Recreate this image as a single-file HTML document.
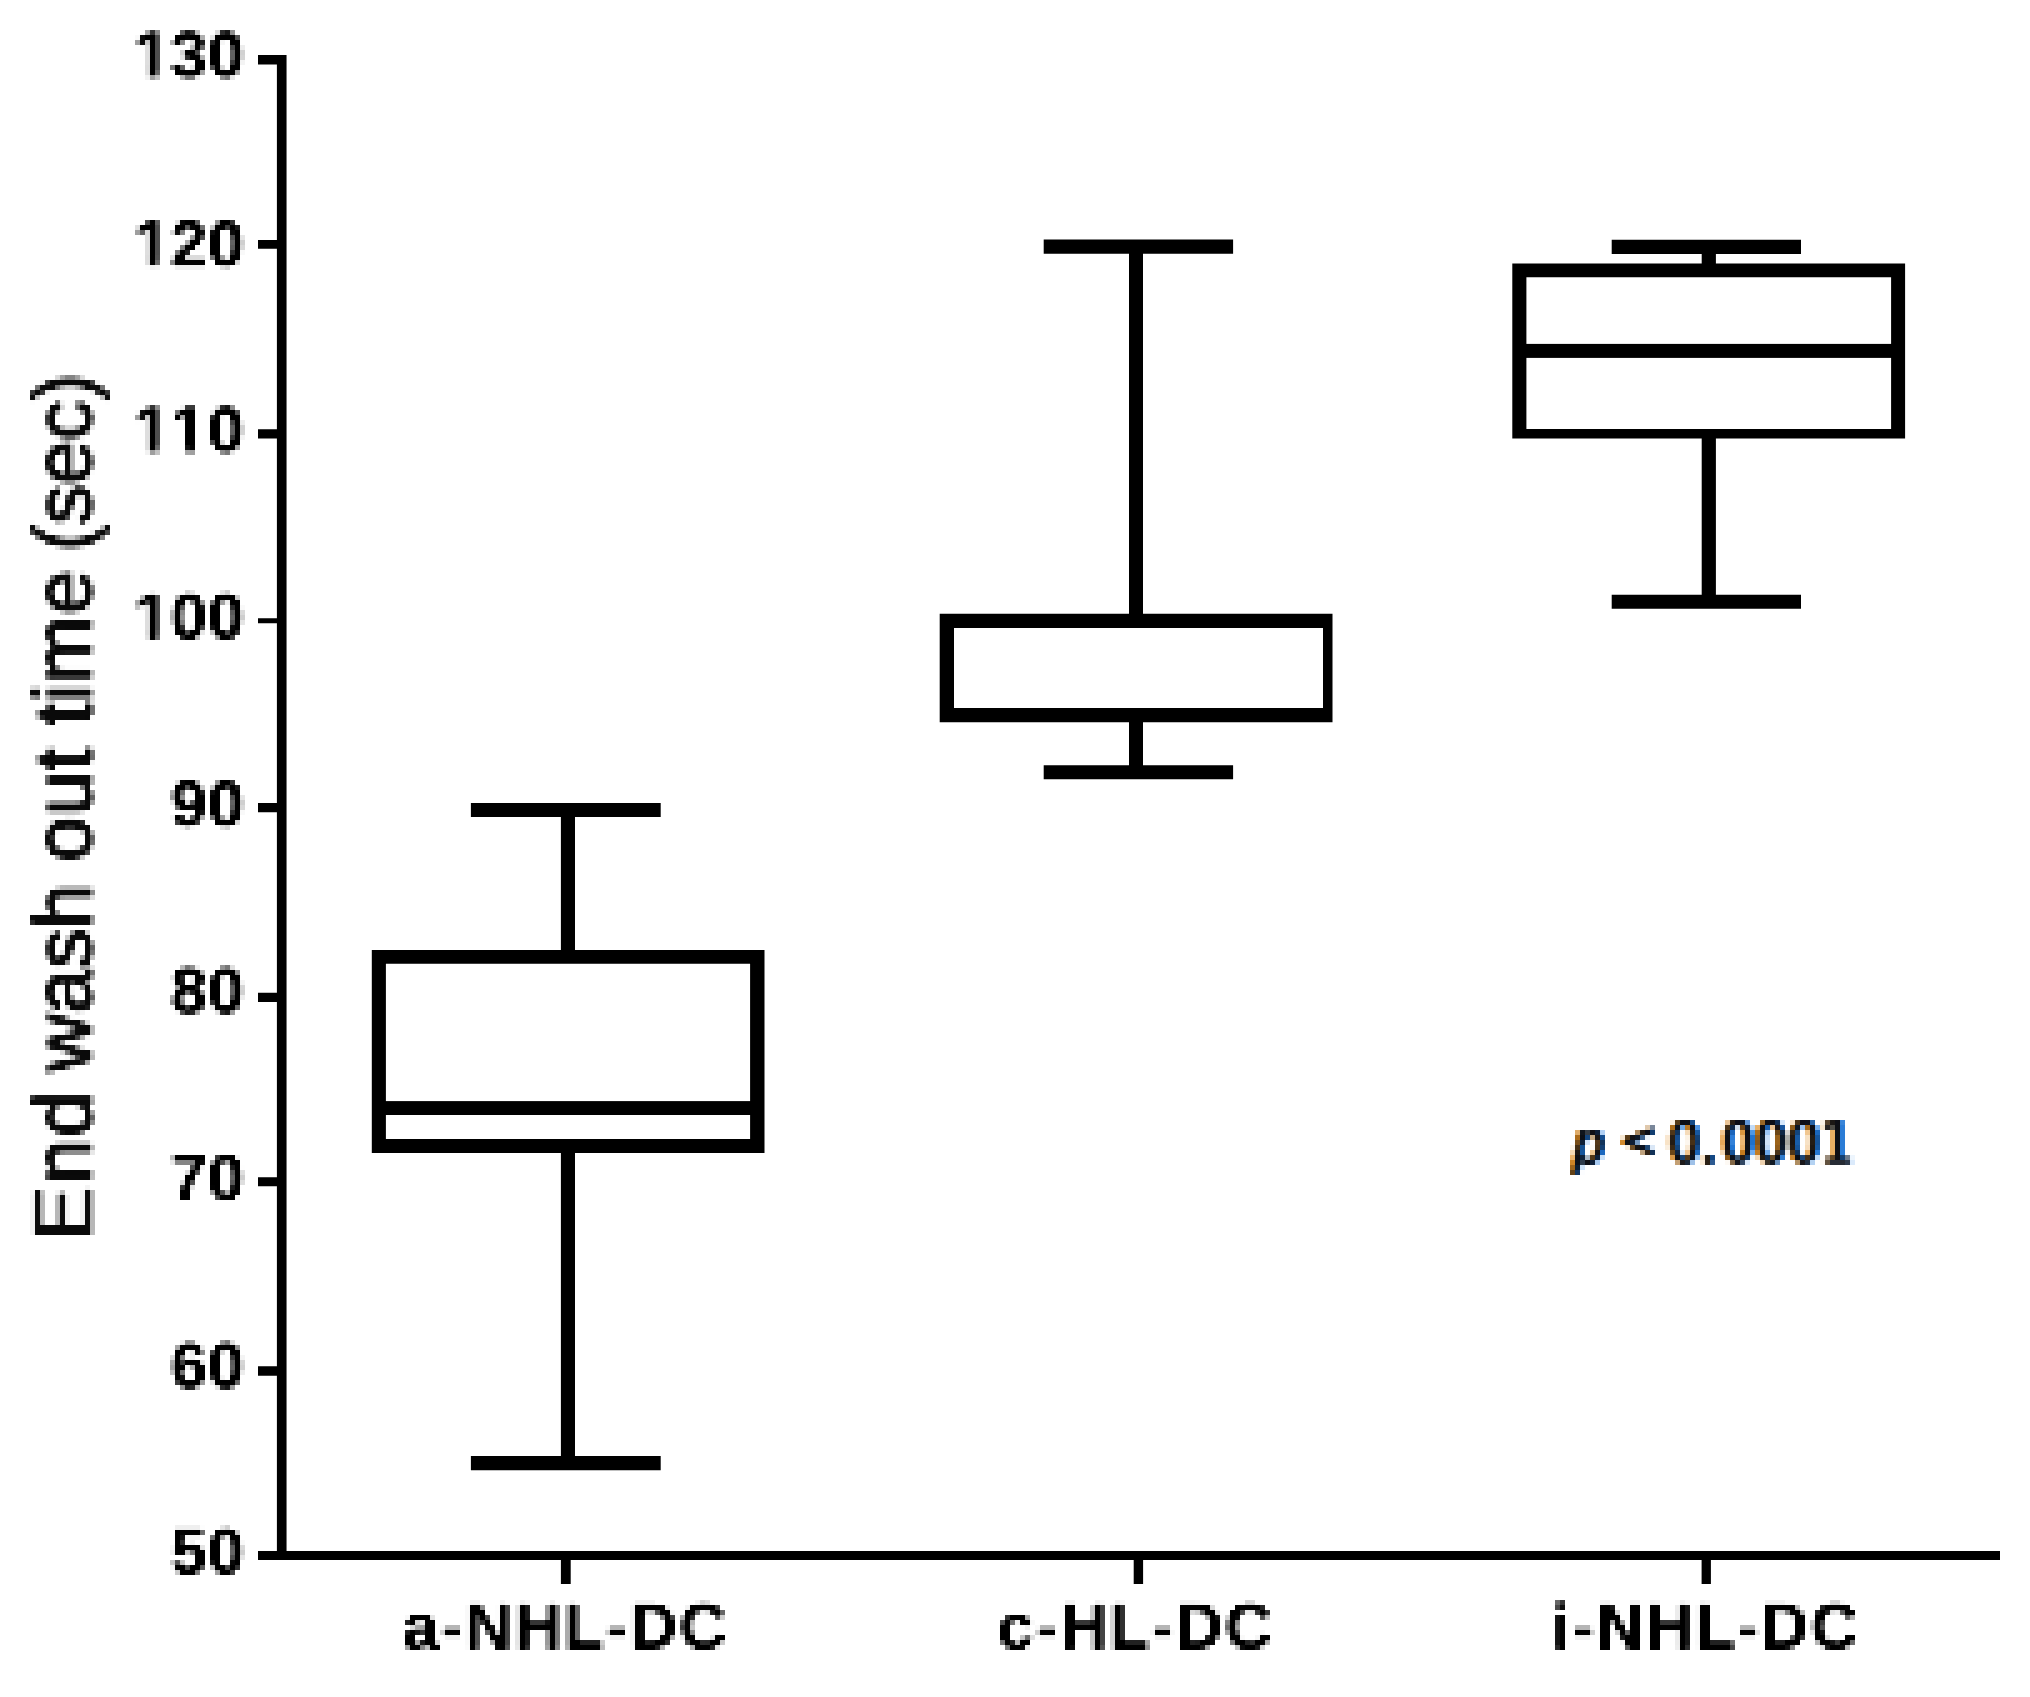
<!DOCTYPE html>
<html lang="en"><head><meta charset="utf-8"><title>End wash out time box plot</title>
<style>
html,body{margin:0;padding:0;background:#fff;}
body{width:2030px;height:1697px;overflow:hidden;}
svg{display:block;position:absolute;left:0;top:0;}
text{font-family:"Liberation Sans",Arial,sans-serif;fill:#000;}
.tk{font-size:65.5px;font-weight:700;letter-spacing:0.66px;font-kerning:none;}
.xl{font-size:65.5px;font-weight:700;letter-spacing:2.1px;}
.yl{font-size:80.8px;font-weight:400;fill:#0a0a0a;stroke:#0a0a0a;stroke-width:1.5px;}
.pv text{font-family:"DejaVu Sans Condensed","DejaVu Sans","Liberation Sans",sans-serif;font-size:56.6px;fill:#0b0d14;stroke:#0b0d14;stroke-width:0.7px;}
.pv .it{font-style:italic;}
.pv .lt{font-size:49px;stroke-width:1.1px;}
.pv .num{letter-spacing:0.6px;}
</style></head>
<body>
<svg width="2030" height="1697" viewBox="0 0 2030 1697">
<defs>
<filter id="ct" x="1540" y="1090" width="340" height="110" filterUnits="userSpaceOnUse" color-interpolation-filters="sRGB">
<feFlood flood-color="#e18c1e" flood-opacity="0.8" result="oc"/>
<feFlood flood-color="#1e7de6" flood-opacity="0.8" result="bc"/>
<feOffset in="SourceAlpha" dx="-3.4" dy="0" result="lo"/>
<feOffset in="SourceAlpha" dx="3.4" dy="0" result="ro"/>
<feComposite in="oc" in2="lo" operator="in" result="lf"/>
<feComposite in="bc" in2="ro" operator="in" result="rf"/>
<feMerge><feMergeNode in="lf"/><feMergeNode in="rf"/><feMergeNode in="SourceGraphic"/></feMerge>
</filter>
<filter id="px" x="0" y="0" width="2030" height="1697" filterUnits="userSpaceOnUse" primitiveUnits="userSpaceOnUse" color-interpolation-filters="sRGB">
<feGaussianBlur in="SourceGraphic" stdDeviation="1.3"/>
<feComponentTransfer result="b"><feFuncA type="linear" slope="1.25" intercept="-0.04"/></feComponentTransfer>
<feFlood x="2" y="2" width="1" height="1" flood-color="#000"/>
<feComposite width="5" height="5"/>
<feTile result="grid"/>
<feComposite in="b" in2="grid" operator="in"/>
<feMorphology operator="dilate" radius="2"/>
</filter>
<filter id="px2" x="0" y="0" width="2030" height="1697" filterUnits="userSpaceOnUse" primitiveUnits="userSpaceOnUse" color-interpolation-filters="sRGB">
<feGaussianBlur in="SourceGraphic" stdDeviation="1.3"/>
<feComponentTransfer result="b"><feFuncA type="linear" slope="1.45" intercept="-0.06"/></feComponentTransfer>
<feFlood x="2" y="2" width="1" height="1" flood-color="#000"/>
<feComposite width="5" height="5"/>
<feTile result="grid"/>
<feComposite in="b" in2="grid" operator="in"/>
<feMorphology operator="dilate" radius="2"/>
</filter>
</defs>
<g fill="#000">
<path d="M258.0 55H286.55V1551.0H2000V1560.0H1710.9V1583.9H1701.6V1560.0H1143.1V1583.9H1133.7V1560.0H570.7V1583.9H560.9V1560.0H258.0V1551.0H276.9V1375.7H258.0V1366.3H276.9V1186.2H258.0V1177.3H276.9V1001.9H258.0V992.7H276.9V812.2H258.0V802.9H276.9V623.2H258.0V618.3H276.9V438.6H258.0V429.3H276.9V248.8H258.0V239.9H276.9V64.4H258.0Z"/>
<path fill-rule="evenodd" d="M371.80 949.90H764.50V1153.00H371.80Z M385.90 963.70V1139.00H750.10V963.70Z"/>
<rect x="378.85" y="1101.10" width="378.45" height="13.90"/>
<path d="M470.90 803.00H660.70V816.90H575.00V956.80H560.90V816.90H470.90Z"/>
<path d="M470.90 1470.30H660.70V1456.00H575.00V1146.00H560.90V1456.00H470.90Z"/>
<path fill-rule="evenodd" d="M939.70 613.80H1332.50V722.30H939.70Z M954.00 627.90V708.10H1323.00V627.90Z"/>
<path d="M1043.70 239.60H1233.10V253.80H1143.00V620.85H1129.00V253.80H1043.70Z"/>
<path d="M1043.70 779.30H1233.10V765.20H1143.00V715.20H1129.00V765.20H1043.70Z"/>
<path fill-rule="evenodd" d="M1512.30 263.40H1905.10V438.40H1512.30Z M1526.40 277.30V428.90H1891.10V277.30Z"/>
<rect x="1519.35" y="343.90" width="378.75" height="14.00"/>
<path d="M1611.70 239.80H1801.00V253.90H1715.90V270.35H1701.70V253.90H1611.70Z"/>
<path d="M1611.70 608.80H1801.00V594.70H1715.90V433.65H1701.70V594.70H1611.70Z"/>
</g>
<g filter="url(#px)">
<text class="tk" x="244.8" y="76.9" text-anchor="end">130</text>
<text class="tk" x="244.8" y="265.5" text-anchor="end">120</text>
<text class="tk" x="244.8" y="452.4" text-anchor="end">110</text>
<text class="tk" x="244.8" y="639.4" text-anchor="end">100</text>
<text class="tk" x="244.8" y="826.3" text-anchor="end">90</text>
<text class="tk" x="244.8" y="1013.4" text-anchor="end">80</text>
<text class="tk" x="244.8" y="1200.2" text-anchor="end">70</text>
<text class="tk" x="244.8" y="1387.5" text-anchor="end">60</text>
<text class="tk" x="244.8" y="1574.1" text-anchor="end">50</text>
<text class="xl" x="565.6" y="1649.2" text-anchor="middle">a-NHL-DC</text>
<text class="xl" x="1135.8" y="1649.2" text-anchor="middle">c-HL-DC</text>
<text class="xl" x="1705.9" y="1649.2" text-anchor="middle">i-NHL-DC</text>
<text class="yl" transform="translate(91,1240.5) rotate(-90)" y="0"><tspan x="0.00" style="letter-spacing:2.5px">End</tspan> <tspan x="168.60" style="letter-spacing:-0.2px">wash</tspan> <tspan x="378.97" style="letter-spacing:0.6px">out</tspan> <tspan x="515.13" style="letter-spacing:1.0px">time</tspan> <tspan x="688.93" style="letter-spacing:-0.35px">(sec)</tspan></text>
<g fill="#fff">
<rect x="136.03" y="69.09" width="12.78" height="9.86"/>
<rect x="157.78" y="69.09" width="11.75" height="9.86"/>
<rect x="136.03" y="257.69" width="12.78" height="9.86"/>
<rect x="157.78" y="257.69" width="11.75" height="9.86"/>
<rect x="136.03" y="444.59" width="12.78" height="9.86"/>
<rect x="157.78" y="444.59" width="11.75" height="9.86"/>
<rect x="173.12" y="444.59" width="12.78" height="9.86"/>
<rect x="194.87" y="444.59" width="11.75" height="9.86"/>
<rect x="136.03" y="631.59" width="12.78" height="9.86"/>
<rect x="157.78" y="631.59" width="11.75" height="9.86"/>
</g>
</g>
<g filter="url(#px2)">
<g class="pv" filter="url(#ct)">
<text><tspan class="it" x="1572.5" y="1163.1">p</tspan> <tspan class="lt" x="1620" y="1156.6">&lt;</tspan> <tspan class="num" x="1668.3" y="1163.1" dx="0 0 3.6">0.0001</tspan></text>
</g>
</g>
</svg>
</body></html>
